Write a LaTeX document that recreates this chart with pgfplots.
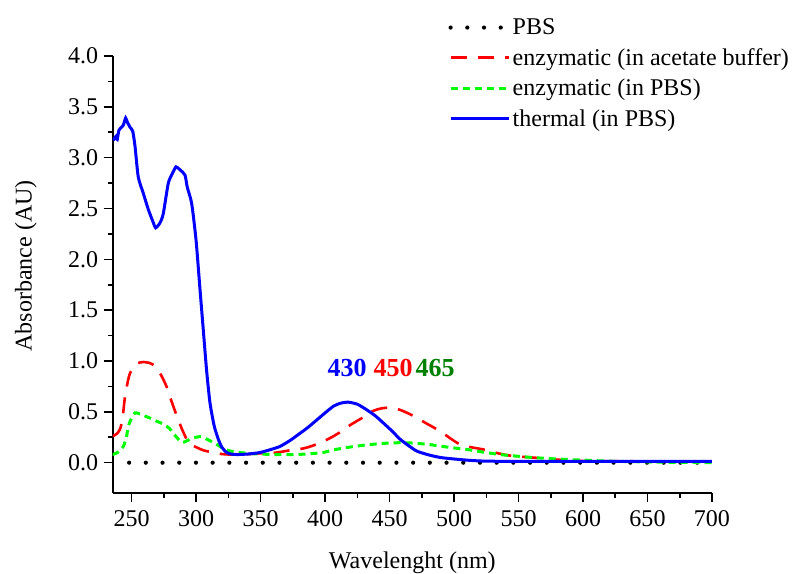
\documentclass[border=0pt]{standalone}
\usepackage{pgfplots}
\pgfplotsset{compat=1.18}
\usepackage{fontspec}
\setmainfont{Liberation Serif}
\newcommand{\bigf}{\fontsize{24bp}{28bp}\selectfont}
\definecolor{dgreen}{RGB}{0,128,0}
\begin{document}
\begin{tikzpicture}[font=\bigf]
\begin{axis}[
  scale only axis,
  width=599bp, height=437bp,
  xmin=235.3, xmax=700, ymin=-0.3, ymax=4.0,
  axis x line=bottom, axis y line=left,
  axis line style={-, line width=1.6bp},
  every tick/.style={black, line width=1.6bp},
  tick align=outside,
  major tick length=9bp, minor tick length=5bp,
  xtick={250,300,...,700}, ytick={0,0.5,...,4.0},
  minor x tick num=1, minor y tick num=1,
  /pgf/number format/assume math mode=true,
  yticklabel style={xshift=-2bp, /pgf/number format/.cd, fixed, fixed zerofill, precision=1},
  xticklabel style={yshift=-5bp, /pgf/number format/.cd, fixed, precision=0, set thousands separator={}},
  tick label style={font=\bigf},
  label style={font=\bigf},
  xlabel={Wavelenght (nm)},
  ylabel={Absorbance (AU)},
  x label style={at={(axis description cs:0.5,-0.173)}, anchor=base},
  y label style={at={(axis description cs:-0.145,0.52)}, anchor=center},
  legend style={draw=none, fill=none, font=\bigf, at={(axis description cs:0.560,1.09)}, anchor=north west, inner sep=0pt, row sep=8.3bp, cells={anchor=west}},
  legend image code/.code={\draw[#1] (0bp,0bp) -- (58bp,0bp);},
]
\addplot[black, line width=4.2bp, line cap=round, dash pattern=on 0bp off 16.7bp] coordinates {(248,0) (700,0)};
\addlegendentry{PBS}
\addplot[red, line width=2.6bp, dash pattern=on 16bp off 11bp, smooth] coordinates {
(235,0.26) (238,0.28) (241,0.33) (243,0.45) (244.8,0.65) (247,0.80) (248.7,0.88) (252,0.95) (255,0.98) (259,0.99) (264,0.98) (268,0.95) (272,0.88) (277,0.75) (281,0.60) (285,0.46) (289,0.33) (292.7,0.23) (296,0.18) (300.4,0.15) (306,0.12) (313.3,0.10) (320,0.085) (326,0.08) (335,0.08) (347,0.09) (355,0.095) (362.5,0.10) (372,0.12) (383,0.14) (391,0.17) (398.6,0.21) (405,0.25) (411.6,0.30) (417,0.35) (422,0.39) (430,0.45) (437.4,0.51) (444,0.535) (450.4,0.54) (458,0.52) (468.5,0.46) (478,0.39) (489.2,0.31) (497,0.24) (504.7,0.18) (514,0.15) (522.8,0.13) (535,0.09) (546,0.065) (561.5,0.05) (580,0.03) (600,0.016) (630,0.015) (650,0.012) (700,0.01)};
\addlegendentry{enzymatic (in acetate buffer)}
\addplot[green, line width=3bp, dash pattern=on 7bp off 5bp, smooth] coordinates {
(235,0.08) (239,0.10) (243.5,0.16) (246,0.26) (247.4,0.36) (250,0.44) (252.6,0.49) (256,0.48) (260,0.46) (264,0.44) (269,0.41) (274.5,0.38) (279,0.34) (282.3,0.29) (285.5,0.24) (288.8,0.20) (292,0.21) (295.2,0.23) (300,0.25) (304.3,0.255) (310,0.22) (316,0.18) (321,0.14) (326.3,0.115) (334,0.10) (341.8,0.09) (350,0.085) (359.9,0.08) (370,0.08) (378,0.08) (390,0.09) (398.6,0.10) (406,0.125) (420,0.155) (432.3,0.175) (445,0.19) (455.6,0.196) (465,0.195) (471,0.19) (480,0.18) (489.2,0.163) (500,0.145) (510,0.13) (522,0.105) (535.7,0.08) (548,0.065) (561.6,0.05) (574.5,0.04) (590,0.03) (600.4,0.025) (620,0.015) (639,0.01) (660,0.005) (680,0.003) (700,0.0)};
\addlegendentry{enzymatic (in PBS)}
\addplot[blue, line width=3bp, smooth, tension=0.4] coordinates {
(235.7,3.17) (237.8,3.21) (238.8,3.18) (240.1,3.27) (242.2,3.30) (243.5,3.32) (245.3,3.39) (246.6,3.35) (248.7,3.30) (250.8,3.26) (252.6,3.11) (255.1,2.81) (259,2.65) (262.9,2.49) (266.8,2.36) (268.6,2.31) (272,2.36) (274.5,2.45) (278.4,2.75) (281.8,2.85) (284.4,2.91) (287.5,2.88) (291.3,2.83) (293.1,2.71) (296.5,2.55) (299.9,2.19) (303,1.70) (305.5,1.31) (308,0.92) (310.7,0.59) (314,0.36) (317.2,0.23) (320,0.15) (323.7,0.10) (327,0.085) (331.5,0.08) (340,0.085) (349.5,0.10) (358,0.13) (365,0.16) (373,0.22) (380.6,0.29) (386,0.34) (393.5,0.42) (400,0.49) (406.4,0.555) (412,0.585) (418,0.595) (425,0.575) (432.3,0.52) (439,0.46) (445.2,0.39) (452,0.31) (458.2,0.23) (465,0.165) (471.1,0.114) (478,0.085) (484,0.065) (490,0.05) (497,0.04) (510,0.025) (522.5,0.016) (550,0.012) (600,0.012) (650,0.012) (700,0.012)};
\addlegendentry{thermal (in PBS)}
\node[anchor=base, text=blue, font=\fontsize{26bp}{30bp}\selectfont\bfseries] at (axis cs:417,0.85) {430};
\node[anchor=base, text=red, font=\fontsize{26bp}{30bp}\selectfont\bfseries] at (axis cs:452.7,0.85) {450};
\node[anchor=base, text=dgreen, font=\fontsize{26bp}{30bp}\selectfont\bfseries] at (axis cs:485.3,0.85) {465};
\coordinate (sw) at (rel axis cs:0,0);
\coordinate (ne) at (rel axis cs:1,1);
\end{axis}
\pgfresetboundingbox
\path ([shift={(-112.7bp,-80.7bp)}]sw) rectangle ([shift={(91bp,56bp)}]ne);
\end{tikzpicture}
\end{document}
